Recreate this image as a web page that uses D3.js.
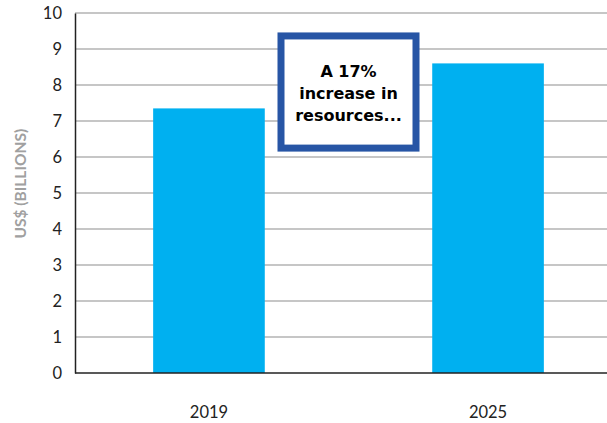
<!DOCTYPE html>
<html>
<head>
<meta charset="utf-8">
<script src="https://cdn.jsdelivr.net/npm/d3@7"></script>
<style>
  body { margin: 0; background: #fff; }
  svg { display: block; font-family: Lato, "Open Sans", sans-serif; }
</style>
</head>
<body>
<div id="chart"></div>
<script>
// data //
let years = ["2019", "2025"];
let values = [7.35, 8.6];
let yTicks = [0, 1, 2, 3, 4, 5, 6, 7, 8, 9, 10];
let noteLines = ["A 17%", "increase in", "resources..."];

let SVGwidth = 607,
    SVGheight = 423,
    plotLeft = 75, plotTop = 13, plotBottom = 373;

let svg = d3.select("#chart").append("svg")
    .attr("width", SVGwidth)
    .attr("height", SVGheight);

let xScale = d3.scaleBand().domain(years).range([plotLeft, 622])
    .paddingInner(0.6).paddingOuter(0.28);
let yScale = d3.scaleLinear().domain([0, 10]).range([plotBottom, plotTop]);

// gridlines
svg.selectAll(".grid")
    .data(yTicks.filter(d => d > 0))
    .enter().append("line")
    .attr("x1", plotLeft).attr("x2", SVGwidth)
    .attr("y1", d => yScale(d)).attr("y2", d => yScale(d))
    .attr("stroke", "#b3b3b3")
    .attr("stroke-width", 1.5);

// bars
svg.selectAll(".bar")
    .data(values)
    .enter().append("rect")
    .attr("x", (d, i) => xScale(years[i]))
    .attr("width", xScale.bandwidth())
    .attr("y", d => yScale(d))
    .attr("height", d => yScale(0) - yScale(d))
    .attr("fill", "#00b0f0");

// axes
let yAxis = d3.axisLeft(yScale).tickValues(yTicks).tickSize(0).tickPadding(13);
svg.append("g")
    .attr("transform", "translate(" + plotLeft + ",0)")
    .call(yAxis)
    .call(g => g.select(".domain").attr("stroke", "#222").attr("stroke-width", 1.5))
    .call(g => g.selectAll("text").attr("font-size", 16.5).attr("fill", "#222")
        .style("font-family", "Lato, sans-serif"));

let xAxis = d3.axisBottom(xScale).tickSize(0).tickPadding(33);
svg.append("g")
    .attr("transform", "translate(0," + plotBottom + ")")
    .call(xAxis)
    .call(g => g.select(".domain").attr("stroke", "#222").attr("stroke-width", 1.5)
        .attr("d", "M" + plotLeft + ",0H" + SVGwidth))
    .call(g => g.selectAll("text").attr("font-size", 16.5).attr("fill", "#222")
        .style("font-family", "Lato, sans-serif"));

svg.append("text")
    .attr("transform", "translate(26," + yScale(5.26) + ") rotate(-90)")
    .attr("text-anchor", "middle")
    .attr("font-size", 15.5)
    .attr("font-weight", "bold")
    .attr("fill", "#a0a0a0")
    .text("US$ (BILLIONS)");

// annotation box
let midX = (xScale(years[0]) + xScale(years[1]) + xScale.bandwidth()) / 2;
let boxW = 142;
let boxTop = yScale(9.46), boxBottom = yScale(6.15);
svg.append("rect")
    .attr("x", midX - boxW / 2 + 3.5)
    .attr("y", boxTop + 3.5)
    .attr("width", boxW - 7)
    .attr("height", boxBottom - boxTop - 7)
    .attr("fill", "#fff")
    .attr("stroke", "#2755a5")
    .attr("stroke-width", 7);

svg.selectAll(".note")
    .data(noteLines)
    .enter().append("text")
    .attr("x", midX)
    .attr("y", (d, i) => boxTop + 45 + i * 22)
    .attr("text-anchor", "middle")
    .attr("font-size", 16)
    .attr("font-weight", "bold")
    .attr("fill", "#000")
    .style("font-family", "'DejaVu Sans', sans-serif")
    .text(d => d);
</script>
</body>
</html>
